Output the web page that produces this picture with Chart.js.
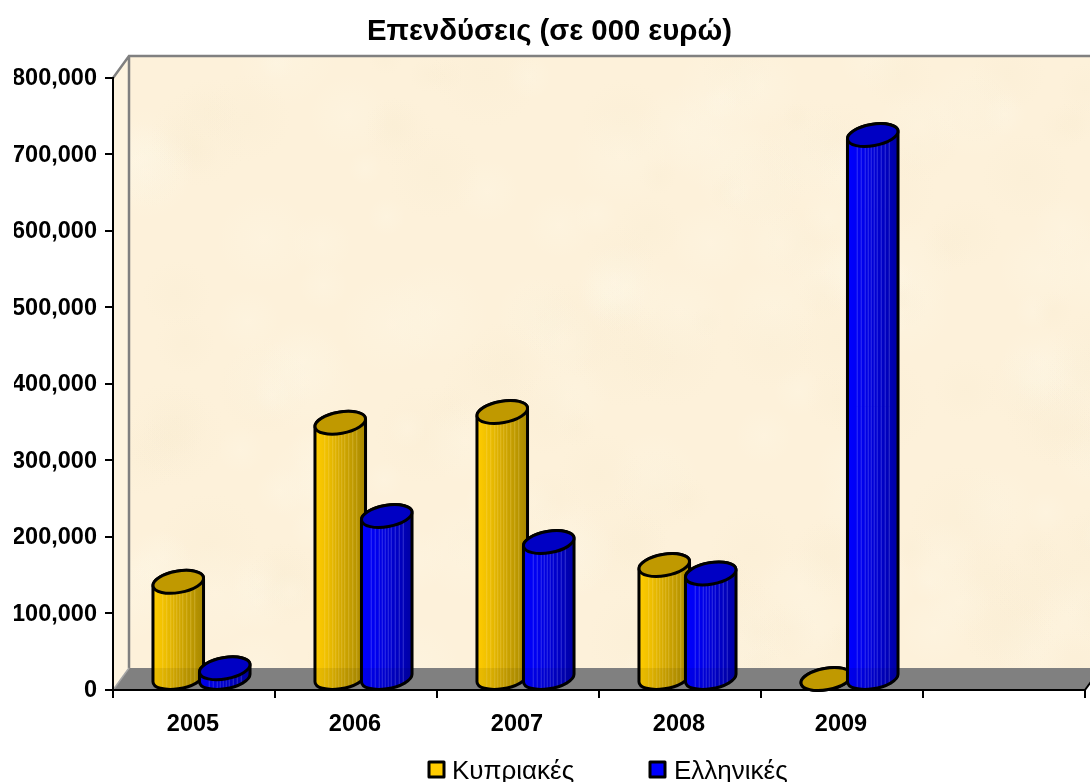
<!DOCTYPE html>
<html>
<head>
<meta charset="utf-8">
<style>
  html, body { margin:0; padding:0; background:#fff; overflow:hidden; }
  canvas { display:block; }
</style>
<script src="https://cdn.jsdelivr.net/npm/chart.js@4/dist/chart.umd.min.js"></script>
</head>
<body>
<canvas id="chart" width="1090" height="782"></canvas>
<script>
/* ---------------------------
   Data
   --------------------------- */
const years = ['2005','2006','2007','2008','2009',''];
const cypriot = [127000, 335000, 349000, 149000, 0, null];
const greek = [14000, 213000, 179000, 138000, 711000, null];
const seriesNames = ['Κυπριακές','Ελληνικές'];
const chartTitle = 'Επενδύσεις (σε 000 ευρώ)';

/* ---------------------------
   Look of the 3D box & cylinders
   --------------------------- */
const depthX = 16, depthY = 22;
const tiltA = 25.6, tiltB = 10.7, tilt = -10 * Math.PI / 180;
const tangent = Math.atan(-(tiltB / tiltA) * Math.tan(tilt));

const looks = [
  { base:'#FFCC00', top:'#C09900', stops:['#FFCC00','#EDBE00','#D4A900','#BF9A00','#A88800'], stripe:'rgba(255,235,150,0.28)' },
  { base:'#0000FF', top:'#0000C4', stops:['#0000FF','#0000F0','#0000D8','#0000C0','#0000A4'], stripe:'rgba(150,150,255,0.35)' }
];
const stripeOffsets = [9, 13, 17, 20, 23, 26, 29, 33, 37, 41];

// small seeded generator, only for the paper blotches of the back wall
function mulberry32(a) {
  return function() {
    a |= 0; a = a + 0x6D2B79F5 | 0;
    var t = Math.imul(a ^ a >>> 15, 1 | a);
    t = t + Math.imul(t ^ t >>> 7, 61 | t) ^ t;
    return ((t ^ t >>> 14) >>> 0) / 4294967296;
  }
}

function drawWalls(ctx, area) {
  const {left, right, top, bottom} = area;
  const rand = mulberry32(4711);

  // back wall
  ctx.save();
  ctx.beginPath();
  ctx.rect(left + depthX, top - depthY, right - left, bottom - top);
  ctx.clip();
  ctx.fillStyle = '#FDF1DA';
  ctx.fillRect(left + depthX, top - depthY, right - left, bottom - top);
  for (let i = 0; i < 220; i++) {
    const x = left + depthX + rand() * (right - left);
    const y = top - depthY + rand() * (bottom - top);
    const r = 15 + rand() * 40;
    const light = rand() > 0.5;
    const g = ctx.createRadialGradient(x, y, 0, x, y, r);
    g.addColorStop(0, light ? 'rgba(255,248,232,0.28)' : 'rgba(245,232,203,0.16)');
    g.addColorStop(1, light ? 'rgba(255,248,232,0)' : 'rgba(245,232,203,0)');
    ctx.fillStyle = g;
    ctx.fillRect(x - r, y - r, r * 2, r * 2);
  }
  ctx.restore();

  // side wall
  ctx.beginPath();
  ctx.moveTo(left, top);
  ctx.lineTo(left + depthX, top - depthY);
  ctx.lineTo(left + depthX, bottom - depthY);
  ctx.lineTo(left, bottom);
  ctx.closePath();
  ctx.fillStyle = '#FEF4E0';
  ctx.fill();

  // floor
  ctx.beginPath();
  ctx.moveTo(left, bottom);
  ctx.lineTo(left + depthX, bottom - depthY);
  ctx.lineTo(right + depthX, bottom - depthY);
  ctx.lineTo(right, bottom);
  ctx.closePath();
  ctx.fillStyle = '#808080';
  ctx.fill();

  // wall edges
  ctx.strokeStyle = '#808080';
  ctx.lineWidth = 2.5;
  ctx.beginPath();
  ctx.moveTo(left, top);
  ctx.lineTo(left + depthX, top - depthY);
  ctx.lineTo(right + depthX, top - depthY);
  ctx.moveTo(left + depthX, top - depthY);
  ctx.lineTo(left + depthX, bottom - depthY);
  ctx.stroke();

  ctx.strokeStyle = '#A6A6A6';
  ctx.lineWidth = 1.5;
  ctx.beginPath();
  ctx.moveTo(left, bottom);
  ctx.lineTo(left + depthX, bottom - depthY);
  ctx.stroke();

  // right floor edge
  ctx.strokeStyle = '#000';
  ctx.lineWidth = 2;
  ctx.beginPath();
  ctx.moveTo(right, bottom);
  ctx.lineTo(right + depthX, bottom - depthY);
  ctx.stroke();
}

function drawCylinder(ctx, bar, look, floorY) {
  const cx = bar.x + 7.5;
  const topY = bar.y - 11;
  const botY = bar.base - 11;
  const x0 = cx - 25;

  const body = new Path2D();
  body.ellipse(cx, topY, tiltA, tiltB, tilt, tangent + Math.PI, tangent + 2 * Math.PI);
  body.ellipse(cx, botY, tiltA, tiltB, tilt, tangent, tangent + Math.PI);
  body.closePath();

  ctx.save();
  const g = ctx.createLinearGradient(x0, 0, x0 + 50, 0);
  look.stops.forEach((c, i) => g.addColorStop(i / (look.stops.length - 1), c));
  ctx.fillStyle = g;
  ctx.fill(body);

  ctx.save();
  ctx.clip(body);
  ctx.strokeStyle = look.stripe;
  ctx.lineWidth = 1;
  stripeOffsets.forEach(off => {
    ctx.beginPath();
    ctx.moveTo(x0 + off + 0.5, topY - 15);
    ctx.lineTo(x0 + off + 0.5, botY + 15);
    ctx.stroke();
  });
  ctx.fillStyle = 'rgba(0,0,0,0.07)';
  ctx.fillRect(x0 - 2, floorY, 54, 30);
  ctx.restore();

  ctx.strokeStyle = '#000';
  ctx.lineWidth = 3;
  ctx.lineJoin = 'round';
  ctx.stroke(body);

  ctx.beginPath();
  ctx.ellipse(cx, topY, tiltA, tiltB, tilt, 0, 2 * Math.PI);
  ctx.fillStyle = look.top;
  ctx.fill();
  ctx.stroke();
  ctx.restore();
}

/* walls behind the axes, cylinders in place of the flat bars, legend off centre */
const box3d = {
  id: 'box3d',
  beforeDraw(chart) {
    drawWalls(chart.ctx, chart.chartArea);
  },
  beforeDatasetsDraw(chart) {
    const floorY = chart.chartArea.bottom - depthY;
    chart.data.datasets.forEach((ds, i) => {
      chart.getDatasetMeta(i).data.forEach((bar, j) => {
        if (ds.data[j] !== null) drawCylinder(chart.ctx, bar, looks[i], floorY);
      });
    });
    return false;
  },
  afterDraw(chart) {
    const ctx = chart.ctx;
    const boxX = [429, 650];
    const textX = [452, 674];
    seriesNames.forEach((name, i) => {
      ctx.save();
      ctx.fillStyle = looks[i].base;
      ctx.strokeStyle = '#000';
      ctx.lineWidth = 3;
      ctx.lineJoin = 'round';
      ctx.fillRect(boxX[i], 762, 15, 15);
      ctx.strokeRect(boxX[i], 762, 15, 15);
      ctx.fillStyle = '#000';
      ctx.font = '26px "Liberation Sans", Arial, sans-serif';
      ctx.textBaseline = 'alphabetic';
      ctx.fillText(name, textX[i], 779);
      ctx.restore();
    });
  }
};

/* ---------------------------
   Chart
   --------------------------- */
const boldFont = { family:'"Liberation Sans", Arial, sans-serif', size:23.5, weight:'bold' };

new Chart(document.getElementById('chart').getContext('2d'), {
  type: 'bar',
  plugins: [box3d],
  data: {
    labels: years,
    datasets: [
      { label: seriesNames[0], data: cypriot, backgroundColor: looks[0].base, categoryPercentage: 0.574, barPercentage: 1.075 },
      { label: seriesNames[1], data: greek, backgroundColor: looks[1].base, categoryPercentage: 0.574, barPercentage: 1.075 }
    ]
  },
  options: {
    responsive: false,
    animation: false,
    layout: { padding: { left: 14, right: 5, top: 0, bottom: 0 } },
    plugins: {
      tooltip: { enabled: false },
      legend: { display: false },
      title: {
        display: true,
        text: chartTitle,
        color: '#000',
        font: { family:'"Liberation Sans", Arial, sans-serif', size:29.3, weight:'bold' },
        padding: { top: 14.4, bottom: 28.4 }
      }
    },
    scales: {
      x: {
        afterFit: s => { s.height = 92; },
        border: { color:'#000', width:2 },
        grid: { drawOnChartArea:false, color:'#000', lineWidth:2, tickLength:8, tickWidth:2 },
        ticks: { color:'#000', font:boldFont, padding:12, labelOffset:-1, maxRotation:0, autoSkip:false }
      },
      y: {
        min: 0,
        max: 800000,
        afterFit: s => { s.width = 99; },
        border: { color:'#000', width:2 },
        grid: { drawOnChartArea:false, color:'#000', lineWidth:2, tickLength:8, tickWidth:2 },
        ticks: {
          color:'#000',
          font:boldFont,
          padding:8,
          labelOffset:1,
          stepSize:100000,
          callback: v => v.toLocaleString('en-US')
        }
      }
    }
  }
});
</script>
</body>
</html>
